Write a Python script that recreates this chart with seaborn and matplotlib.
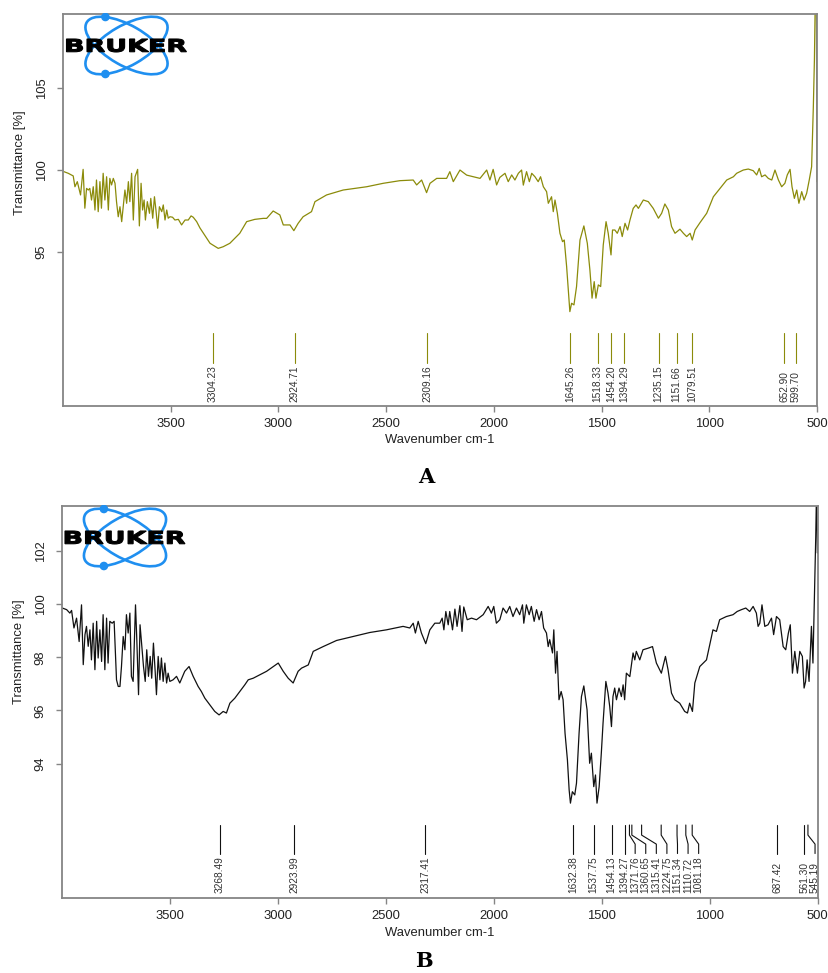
import numpy as np
import pandas as pd
import matplotlib
matplotlib.use('Agg')
import matplotlib.pyplot as plt
import seaborn as sns
from matplotlib.patches import Ellipse, Circle, PathPatch
from matplotlib.textpath import TextPath
from matplotlib.font_manager import FontProperties
from matplotlib.transforms import Affine2D

sns.set_theme(style='white')
plt.rcParams['font.family'] = ['Liberation Sans', 'DejaVu Sans']

# spectrum A
wn_a = [3995, 3975, 3952, 3944, 3933, 3924, 3918, 3906, 3898, 3890, 3882, 3875, 3867, 3859,
        3851, 3844, 3836, 3828, 3821, 3813, 3805, 3797, 3789, 3782, 3774, 3766, 3758, 3751,
        3743, 3735, 3727, 3720, 3712, 3704, 3696, 3689, 3681, 3673, 3665, 3653, 3645, 3637,
        3630, 3623, 3617, 3608, 3598, 3592, 3583, 3575, 3568, 3560, 3552, 3541, 3534, 3526,
        3518, 3511, 3503, 3491, 3480, 3464, 3449, 3433, 3418, 3405, 3395, 3379, 3364, 3317,
        3279, 3256, 3225, 3179, 3147, 3109, 3070, 3054, 3024, 2993, 2977, 2946, 2928, 2908,
        2885, 2846, 2830, 2776, 2699, 2590, 2513, 2436, 2374, 2358, 2335, 2312, 2296, 2265,
        2219, 2204, 2188, 2157, 2126, 2095, 2064, 2033, 2018, 2003, 1987, 1972, 1948, 1933,
        1917, 1902, 1886, 1871, 1863, 1848, 1835, 1824, 1809, 1794, 1783, 1770, 1755, 1747,
        1732, 1724, 1716, 1705, 1693, 1681, 1673, 1662, 1654, 1647, 1639, 1628, 1616, 1600,
        1582, 1566, 1554, 1544, 1534, 1526, 1515, 1504, 1492, 1479, 1469, 1456, 1449, 1438,
        1427, 1414, 1404, 1391, 1379, 1368, 1353, 1340, 1329, 1306, 1283, 1260, 1236, 1221,
        1206, 1190, 1175, 1159, 1136, 1120, 1105, 1089, 1079, 1066, 1043, 1012, 981, 950,
        919, 888, 873, 842, 819, 796, 780, 768, 757, 741, 726, 710, 695, 679, 664, 649, 638,
        625, 616, 605, 594, 584, 571, 560, 548, 536, 525, 517, 512, 508, 503, 500.5]
tr_a = [99.88, 99.78, 99.62, 98.96, 99.27, 98.80, 98.46, 100.02, 97.65, 98.86, 98.76, 98.86,
        98.15, 98.96, 97.54, 99.37, 97.44, 99.27, 97.65, 99.78, 98.15, 99.57, 97.54, 99.47,
        99.07, 99.47, 99.17, 98.05, 97.13, 97.74, 96.83, 97.74, 98.76, 97.95, 99.27, 98.05,
        99.78, 96.93, 99.57, 100.02, 96.57, 99.17, 97.54, 98.15, 96.93, 98.05, 97.34, 98.25,
        97.04, 98.35, 97.54, 96.43, 97.74, 97.44, 97.85, 96.93, 97.54, 97.04, 97.13, 97.10,
        96.93, 96.97, 96.63, 96.93, 96.93, 97.18, 97.10, 96.83, 96.45, 95.51, 95.20, 95.30,
        95.51, 96.12, 96.83, 96.97, 97.03, 97.03, 97.48, 97.24, 96.63, 96.63, 96.28, 96.73,
        97.13, 97.44, 98.05, 98.46, 98.76, 98.96, 99.17, 99.33, 99.37, 99.07, 99.37, 98.60,
        99.17, 99.47, 99.47, 99.88, 99.27, 99.98, 99.67, 99.57, 99.47, 99.98, 99.37, 100.02,
        99.07, 99.53, 99.78, 99.27, 99.68, 99.37, 99.78, 99.98, 99.06, 99.88, 99.27, 99.78,
        99.57, 99.27, 99.57, 98.96, 98.66, 97.95, 98.35, 97.44, 98.15, 97.34, 96.12, 95.61,
        95.71, 94.09, 92.66, 91.34, 91.85, 91.75, 92.87, 95.71, 96.57, 95.51, 93.88, 92.16,
        93.17, 92.16, 92.97, 92.87, 95.41, 96.83, 96.12, 94.80, 96.32, 96.32, 96.12, 96.53,
        95.92, 96.73, 96.32, 96.93, 97.64, 97.85, 97.64, 98.15, 98.05, 97.64, 97.04, 97.34,
        97.91, 97.54, 96.53, 96.12, 96.37, 96.12, 95.92, 96.12, 95.71, 96.32, 96.77, 97.34,
        98.35, 98.86, 99.37, 99.57, 99.78, 99.98, 100.04, 99.94, 99.68, 100.08, 99.57, 99.68,
        99.47, 99.37, 99.98, 99.37, 98.96, 99.17, 99.68, 100.02, 98.96, 98.25, 98.76, 97.95,
        98.66, 98.15, 98.56, 99.37, 100.18, 103.84, 106.70, 110.5, 112.0, 99.27]

# spectrum B
wn_b = [3998, 3978, 3963, 3955, 3944, 3932, 3920, 3909, 3901, 3893, 3886, 3878, 3870, 3863,
        3855, 3847, 3839, 3832, 3824, 3816, 3809, 3801, 3793, 3786, 3778, 3767, 3758, 3747,
        3739, 3731, 3724, 3716, 3708, 3701, 3693, 3685, 3678, 3670, 3659, 3653, 3645, 3638,
        3630, 3622, 3614, 3607, 3599, 3591, 3584, 3576, 3568, 3562, 3554, 3546, 3539, 3531,
        3523, 3515, 3508, 3500, 3485, 3469, 3454, 3441, 3431, 3411, 3392, 3369, 3354, 3338,
        3315, 3292, 3272, 3253, 3238, 3222, 3199, 3176, 3153, 3137, 3114, 3083, 3052, 3021,
        2998, 2975, 2952, 2929, 2906, 2890, 2859, 2836, 2790, 2728, 2651, 2574, 2497, 2420,
        2389, 2373, 2363, 2350, 2335, 2315, 2296, 2273, 2250, 2239, 2231, 2222, 2211, 2204,
        2191, 2180, 2170, 2157, 2147, 2139, 2123, 2103, 2080, 2049, 2026, 2011, 2000, 1988,
        1972, 1957, 1941, 1926, 1911, 1895, 1880, 1867, 1861, 1849, 1836, 1826, 1813, 1802,
        1790, 1779, 1769, 1756, 1748, 1741, 1728, 1722, 1714, 1707, 1698, 1688, 1679, 1670,
        1659, 1651, 1645, 1636, 1625, 1617, 1605, 1594, 1583, 1568, 1556, 1548, 1537, 1529,
        1522, 1512, 1502, 1494, 1481, 1471, 1463, 1455, 1448, 1440, 1432, 1420, 1409, 1401,
        1394, 1386, 1370, 1355, 1347, 1340, 1324, 1309, 1285, 1265, 1247, 1224, 1205, 1193,
        1177, 1162, 1139, 1116, 1103, 1093, 1080, 1069, 1046, 1015, 985, 969, 954, 923, 892,
        873, 853, 833, 815, 799, 784, 776, 768, 758, 745, 730, 714, 704, 691, 676, 660, 648,
        636, 627, 617, 606, 594, 583, 571, 563, 556, 549, 540, 529, 522, 514, 509, 505, 501.5]
tr_b = [99.85, 99.79, 99.66, 99.76, 99.10, 99.47, 98.59, 99.97, 97.72, 98.85, 99.16, 98.41,
        99.03, 97.90, 99.28, 97.53, 99.35, 97.97, 99.03, 97.84, 99.60, 97.53, 99.47, 97.78,
        99.35, 99.28, 99.35, 97.15, 96.90, 96.90, 97.65, 98.78, 98.28, 99.60, 98.91, 99.66,
        97.28, 97.09, 99.97, 98.66, 96.59, 99.22, 98.41, 97.65, 97.09, 98.28, 97.28, 98.03,
        97.21, 98.53, 97.47, 96.59, 98.03, 97.15, 97.97, 97.09, 97.78, 97.03, 97.40, 97.09,
        97.15, 97.28, 97.03, 97.28, 97.47, 97.65, 97.28, 96.90, 96.71, 96.46, 96.21, 95.96,
        95.83, 95.96, 95.90, 96.27, 96.46, 96.71, 96.96, 97.15, 97.21, 97.34, 97.47, 97.65,
        97.78, 97.47, 97.21, 97.03, 97.47, 97.59, 97.71, 98.22, 98.40, 98.63, 98.78, 98.93,
        99.03, 99.16, 99.10, 99.28, 98.91, 99.35, 98.91, 98.51, 99.03, 99.28, 99.28, 99.47,
        99.03, 99.72, 99.22, 99.72, 99.03, 99.81, 99.16, 99.94, 98.97, 99.89, 99.41, 99.47,
        99.41, 99.60, 99.91, 99.66, 99.91, 99.28, 99.41, 99.85, 99.66, 99.91, 99.53, 99.85,
        99.60, 99.97, 99.28, 99.97, 99.60, 99.91, 99.35, 99.79, 99.41, 99.72, 99.10, 98.91,
        98.40, 98.66, 98.16, 99.03, 97.40, 98.22, 96.40, 96.71, 96.40, 95.14, 94.14, 93.01,
        92.51, 92.94, 92.82, 93.26, 95.14, 96.52, 96.92, 96.02, 94.01, 94.39, 93.13, 93.57,
        92.51, 93.13, 94.39, 95.52, 97.09, 96.65, 96.14, 95.39, 96.52, 96.84, 96.40, 96.84,
        96.52, 96.96, 96.40, 97.40, 97.27, 98.16, 97.90, 98.22, 97.90, 98.28, 98.34, 98.40,
        97.78, 97.40, 98.03, 97.53, 96.65, 96.40, 96.27, 95.96, 95.90, 96.27, 95.96, 97.03,
        97.65, 97.90, 99.03, 98.97, 99.41, 99.53, 99.60, 99.72, 99.79, 99.85, 99.72, 99.91,
        99.66, 99.16, 99.28, 99.97, 99.16, 99.22, 99.47, 98.85, 99.53, 99.41, 98.40, 98.28,
        98.90, 99.22, 97.40, 98.22, 97.40, 98.22, 98.03, 96.84, 97.09, 97.90, 97.09, 99.16,
        97.78, 100.79, 102.55, 104.5, 101.92]

peaks_a = [3304.23, 2924.71, 2309.16, 1645.26, 1518.33, 1454.20, 1394.29, 1235.15,
           1151.66, 1079.51, 652.90, 599.70]
peaks_b = [3268.49, 2923.99, 2317.41, 1632.38, 1537.75, 1454.13, 1394.27, 1371.76,
           1360.65, 1315.41, 1224.75, 1151.34, 1110.72, 1081.18, 687.42, 561.30, 545.19]

xticks = [3500, 3000, 2500, 2000, 1500, 1000, 500]
yticks_a = [95, 100, 105]
yticks_b = [94, 96, 98, 100, 102]

OLIVE = '#8b8b0a'
BLUE = '#1f8ff0'
GRAY = '#858585'
TXT = '#222222'
W, H = 829, 973

fig = plt.figure(figsize=(W / 100, H / 100), dpi=100)


def px_axes(left, top, right, bottom):
    return fig.add_axes([left / W, 1 - bottom / H, (right - left) / W, (bottom - top) / H])


def style_axes(ax, ylim, yticks, ylab_y):
    ax.set_xlim(3998, 500)
    ax.set_ylim(*ylim)
    ax.set_xticks(xticks)
    ax.set_yticks(yticks)
    for s in ax.spines.values():
        s.set_color(GRAY)
        s.set_linewidth(1.3)
    ax.tick_params(axis='both', direction='out', length=4.3, width=1, color=GRAY,
                   labelsize=9.4, labelcolor=TXT, left=True, bottom=True)
    ax.tick_params(axis='x', pad=4.2)
    ax.tick_params(axis='y', pad=7, labelrotation=90)
    for lab in ax.get_yticklabels():
        lab.set_va('center')
    ax.set_xlabel('Wavenumber cm-1', fontsize=9.4, color=TXT, labelpad=3.5)
    ax.set_ylabel('Transmittance [%]', fontsize=9.4, color=TXT)
    ax.yaxis.set_label_coords(-0.049, ylab_y)
    ax.grid(False)


def mark_peaks(ax, peaks, color, ys):
    # ys: line top, kink 1, kink 2, line bottom, text bottom (axes fraction)
    trans = ax.get_xaxis_transform()
    gap = 49
    srt = sorted(peaks, reverse=True)
    pos = []
    for p in srt:
        pos.append(p if not pos else min(p, pos[-1] - gap))
    for p, q in zip(srt, pos):
        ax.plot([p, p, q, q], ys[:4], transform=trans, color=color, lw=0.8, clip_on=False)
        ax.text(q, ys[4], f'{p:.2f}', transform=trans, rotation=90, ha='center',
                va='bottom', fontsize=7.3, color='#333333')


def draw_logo(cx, cy):
    lax = fig.add_axes([(cx - 66) / W, 1 - (cy + 33) / H, 132 / W, 66 / H])
    lax.set_xlim(-66, 66)
    lax.set_ylim(-33, 33)
    lax.axis('off')
    for ang in (30, -30):
        lax.add_patch(Ellipse((0, 0), 92, 40, angle=ang, fill=False, ec=BLUE, lw=1.9))
    for ang, t in ((-30, 135), (30, 225)):
        lx, ly = 46 * np.cos(np.radians(t)), 20 * np.sin(np.radians(t))
        c, s = np.cos(np.radians(ang)), np.sin(np.radians(ang))
        lax.add_patch(Circle((c * lx - s * ly, s * lx + c * ly), 3.6, color=BLUE))
    tp = TextPath((0, 0), 'BRUKER', size=10,
                  prop=FontProperties(family='DejaVu Sans', weight='bold'))
    bb = tp.get_extents()
    tr = Affine2D().translate(-bb.x0 - bb.width / 2, -bb.y0 - bb.height / 2) \
        .scale(120 / bb.width, 13 / bb.height)
    lax.add_patch(PathPatch(tr.transform_path(tp), fc='black', ec='black', lw=0.8))


# panel A
ax1 = px_axes(63.3, 14, 817, 405.7)
df_a = pd.DataFrame({'wn': wn_a, 'T': tr_a})
sns.lineplot(data=df_a, x='wn', y='T', ax=ax1, sort=False, estimator=None,
             color=OLIVE, lw=0.9)
style_axes(ax1, (85.6, 109.5), yticks_a, 0.621)
mark_peaks(ax1, peaks_a, OLIVE, [0.1856, 0.16, 0.135, 0.109, 0.0094])

# panel B
ax2 = px_axes(62.3, 505.7, 817.7, 898.3)
df_b = pd.DataFrame({'wn': wn_b, 'T': tr_b})
sns.lineplot(data=df_b, x='wn', y='T', ax=ax2, sort=False, estimator=None,
             color='#111111', lw=0.9)
style_axes(ax2, (88.93, 103.7), yticks_b, 0.628)
mark_peaks(ax2, peaks_b, '#111111', [0.1867, 0.161, 0.138, 0.114, 0.0127])

draw_logo(126.5, 45.5)
draw_logo(125, 537.5)

fig.text(426 / W, 1 - 477 / H, 'A', ha='center', va='center', fontsize=15,
         fontweight='bold', family='DejaVu Serif', color='black')
fig.text(424 / W, 1 - 961 / H, 'B', ha='center', va='center', fontsize=15,
         fontweight='bold', family='DejaVu Serif', color='black')

fig.savefig('out.png', dpi=100)
